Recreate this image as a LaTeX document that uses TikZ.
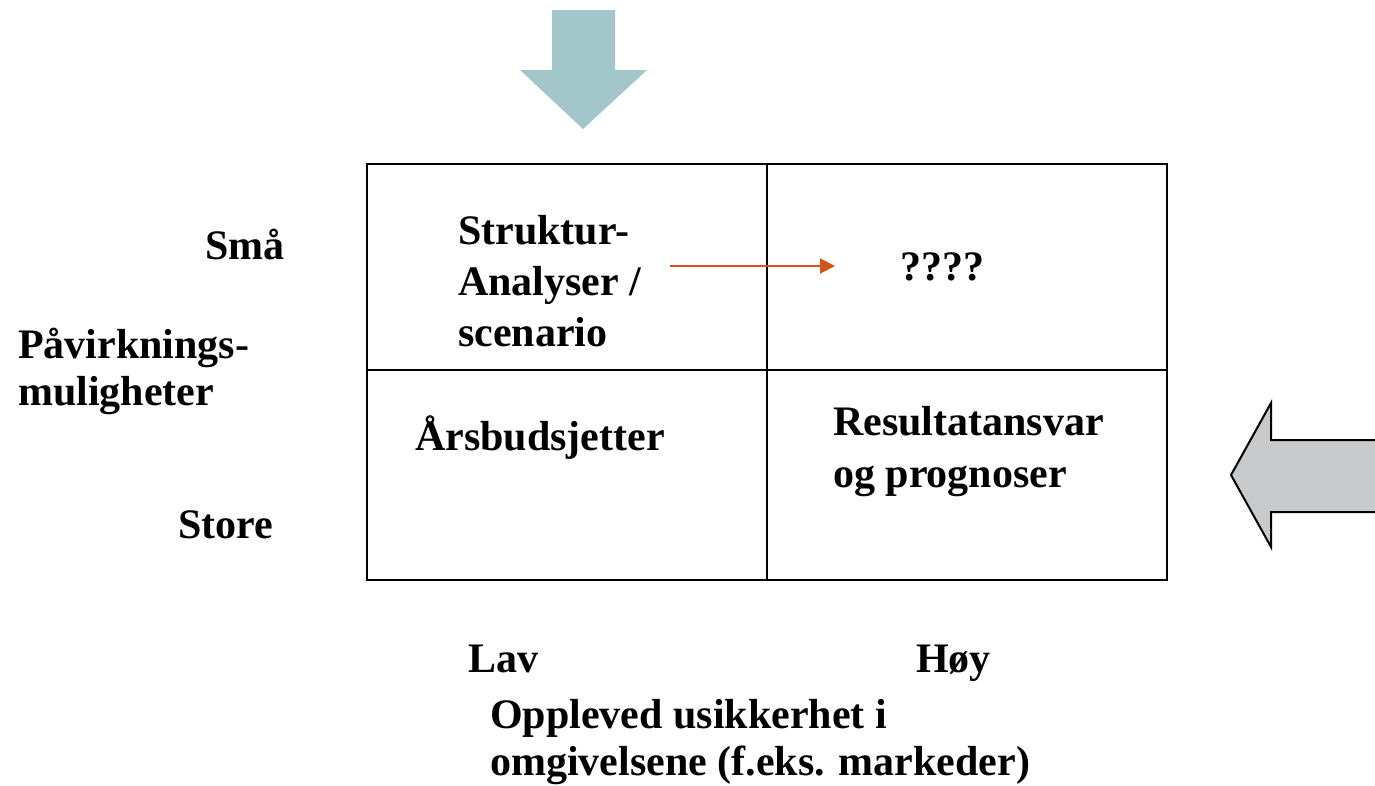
\documentclass[tikz,border=0pt]{standalone}
\usepackage{fontspec}
\setmainfont{Liberation Serif}
\usetikzlibrary{arrows.meta}
\definecolor{tealfill}{HTML}{A3C6CB}
\definecolor{grayfill}{HTML}{C8C9CB}
\definecolor{orangeline}{HTML}{D25416}
\begin{document}
\begin{tikzpicture}[x=1pt,y=-1pt,
  lbl/.style={anchor=base west,inner sep=0pt,font=\fontsize{42}{51}\selectfont\bfseries},
  grid/.style={draw=black,line width=2pt}]
\useasboundingbox (0,0) rectangle (1375,785);
% top arrow
\path[fill=tealfill] (552,10) -- (615,10) -- (615,70) -- (647,70) -- (583,129) -- (520,70) -- (552,70) -- cycle;
% right arrow
\path[fill=grayfill,draw=black,line width=2pt] (1390,440) -- (1271,440) -- (1271,403) -- (1231,475) -- (1271,547) -- (1271,512) -- (1390,512);
% matrix
\draw[grid] (367,164) rectangle (1167,580);
\draw[grid] (767,164) -- (767,580);
\draw[grid] (367,370) -- (1167,370);
% labels
\node[lbl] (sma) at (205,259) {Små};
\node[lbl] (pav1) at (18,358) {Påvirknings-};
\node[lbl] (pav2) at (18,405) {muligheter};
\node[lbl] (store) at (178,538) {Store};
\node[lbl] (s1) at (458,244) {Struktur-};
\node[lbl] (s2) at (458,295) {Analyser /};
\node[lbl] (s3) at (458,346) {scenario};
\node[lbl] (q) at (900,280) {????};
\node[lbl] (ars) at (415,450) {Årsbudsjetter};
\node[lbl] (r1) at (833,435) {Resultatansvar};
\node[lbl] (r2) at (833,487) {og prognoser};
\node[lbl] (lav) at (468,672) {Lav};
\node[lbl] (hoy) at (916,672) {Høy};
\node[lbl] (o1) at (490,728) {Oppleved usikkerhet i};
\node[lbl] (o2) at (490,775) {omgivelsene (f.eks. markeder)};
% orange arrow
\coordinate (oa) at (670,266);
\coordinate (ob) at (835,266);
\draw[orangeline,line width=2pt,-{Triangle[length=15pt,width=15pt]}] (oa) -- (ob);
\end{tikzpicture}
\end{document}
